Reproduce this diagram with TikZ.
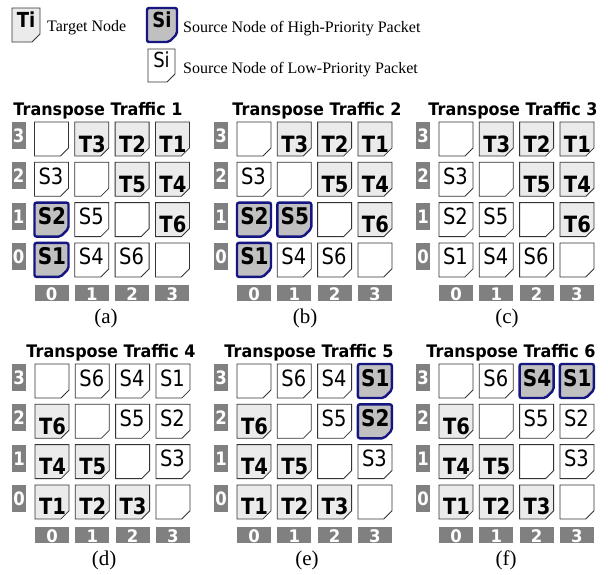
\documentclass[tikz,border=0pt]{standalone}
\usepackage{fontspec}
\setmainfont{Liberation Serif}
\newfontfamily\dv{DejaVu Sans}
\definecolor{tfill}{HTML}{EBEBEB}
\definecolor{hfill}{HTML}{C0C0C0}
\definecolor{barg}{HTML}{808080}
\definecolor{navyb}{HTML}{161680}
\definecolor{edgeg}{HTML}{333333}
\newcommand\vstretch[1]{\scalebox{1}[1.15]{#1}}
\tikzset{
  cellS/.style={draw=edgeg,fill=white,line width=0.8pt},
  cellT/.style={draw=edgeg,fill=tfill,line width=0.8pt},
  cellH/.style={draw=navyb,fill=hfill,line width=2.4pt,rounded corners=2pt},
  lowtext/.style={anchor=base,inner sep=0pt,font=\dv\fontsize{19.5}{20}\selectfont},
  tgttext/.style={anchor=base,inner sep=0pt,font=\dv\bfseries\fontsize{19.5}{20}\selectfont},
  hightext/.style={anchor=base,inner sep=0pt,font=\dv\bfseries\fontsize{20}{20}\selectfont},
  digit/.style={anchor=base,inner sep=0pt,text=white,font=\dv\bfseries\fontsize{16.5}{16}\selectfont},
  barstyle/.style={fill=barg},
  titlestyle/.style={anchor=base,inner sep=0pt,font=\dv\bfseries\fontsize{16}{16}\selectfont},
  capstyle/.style={inner sep=0pt,font=\fontsize{21}{21}\selectfont},
  legtext/.style={anchor=base west,inner sep=0pt,font=\fontsize{16}{16}\selectfont}
}
\newcommand\cellshape[5]{% style, x, y, w, h
  \draw[#1] (#2,#3) -- ++(#4,0) -- ++(0,#5-8) -- ++(-8,8) -- ++(-#4+8,0) -- cycle;}
\newcommand\mycell[5]{% name, col, row, type, text
  \pgfmathsetmacro\cx{\panelx+#2*40.3}%
  \pgfmathsetmacro\cy{\panely+(3-#3)*40.3}%
  \ifcase#4\relax
    \cellshape{cellS}{\cx}{\cy}{34}{34}%
  \or
    \cellshape{cellS}{\cx}{\cy}{34}{34}%
    \node[lowtext] (#1) at (\cx+16.5,\cy+22) {\vstretch{#5}};%
  \or
    \cellshape{cellT}{\cx}{\cy}{34}{34}%
    \node[tgttext] (#1) at (\cx+17.5,\cy+30) {\vstretch{#5}};%
  \or
    \cellshape{cellH}{\cx}{\cy}{34}{34}%
    \node[hightext] (#1) at (\cx+17.5,\cy+22) {\vstretch{#5}};%
  \fi}
\newcommand\drawpanel[7]{% letter, x0, y0, title x, number, caption x, list
  \def\panelx{#2}\def\panely{#3}%
  \node[titlestyle] (title-#1) at (#4,#3-7) {\scalebox{1}[1.08]{Transpose Traffic #5}};
  \node[capstyle] (cap-#1) at (#6,#3+196) {(#1)};
  \foreach \kk in {0,...,3}{%
    \pgfmathsetmacro\ry{#3+(3-\kk)*40.3}%
    \pgfmathsetmacro\rx{#2+\kk*40.3}%
    \fill[barstyle] (#2-23,\ry) rectangle ++(14,27);
    \node[digit] (row-#1-\kk) at (#2-16,\ry+20.5) {\scalebox{1}[1.12]{\kk}};
    \fill[barstyle] (\rx,#3+163) rectangle ++(34,16);
    \node[digit] (col-#1-\kk) at (\rx+17,#3+178.5) {\scalebox{1}[1.05]{\kk}};
  }
  \foreach \ty/\lb [count=\nn from 0] in {#7}{%
    \pgfmathtruncatemacro\rr{3-int(\nn/4)}%
    \pgfmathtruncatemacro\cc{mod(\nn,4)}%
    \mycell{#1-\rr-\cc}{\cc}{\rr}{\ty}{\lb}%
  }}
\begin{document}
\begin{tikzpicture}[x=1pt,y=-1pt]
\useasboundingbox[fill=white] (0,0) rectangle (608,574);
% legend
\cellshape{cellT}{12}{8}{28}{34}
\node[tgttext,font=\dv\bfseries\fontsize{18}{18}\selectfont] (legT) at (26,27) {\vstretch{Ti}};
\node[legtext] (legTtext) at (47,31) {Target Node};
\cellshape{cellH}{147}{8}{30}{34}
\node[hightext,font=\dv\bfseries\fontsize{18}{18}\selectfont] (legH) at (162,27) {\vstretch{Si}};
\node[legtext] (legHtext) at (183,32) {Source Node of High-Priority Packet};
\cellshape{cellS}{148}{49}{27}{33}
\node[lowtext,font=\dv\fontsize{18}{18}\selectfont] (legS) at (161.5,67) {\vstretch{Si}};
\node[legtext] (legStext) at (183,73) {Source Node of Low-Priority Packet};
% panels
\drawpanel{a}{34.5}{122}{98}{1}{106}{0/{},2/T3,2/T2,2/T1, 1/S3,0/{},2/T5,2/T4, 3/S2,1/S5,0/{},2/T6, 3/S1,1/S4,1/S6,0/{}}
\drawpanel{b}{237}{122}{317}{2}{305}{0/{},2/T3,2/T2,2/T1, 1/S3,0/{},2/T5,2/T4, 3/S2,3/S5,0/{},2/T6, 3/S1,1/S4,1/S6,0/{}}
\drawpanel{c}{439}{122}{513}{3}{507}{0/{},2/T3,2/T2,2/T1, 1/S3,0/{},2/T5,2/T4, 1/S2,1/S5,0/{},2/T6, 1/S1,1/S4,1/S6,0/{}}
\drawpanel{d}{35}{364}{111}{4}{104}{0/{},1/S6,1/S4,1/S1, 2/T6,0/{},1/S5,1/S2, 2/T4,2/T5,0/{},1/S3, 2/T1,2/T2,2/T3,0/{}}
\drawpanel{e}{237}{364}{309}{5}{307}{0/{},1/S6,1/S4,3/S1, 2/T6,0/{},1/S5,3/S2, 2/T4,2/T5,0/{},1/S3, 2/T1,2/T2,2/T3,0/{}}
\drawpanel{f}{439}{364}{511}{6}{506}{0/{},1/S6,3/S4,3/S1, 2/T6,0/{},1/S5,1/S2, 2/T4,2/T5,0/{},1/S3, 2/T1,2/T2,2/T3,0/{}}
\end{tikzpicture}
\end{document}
